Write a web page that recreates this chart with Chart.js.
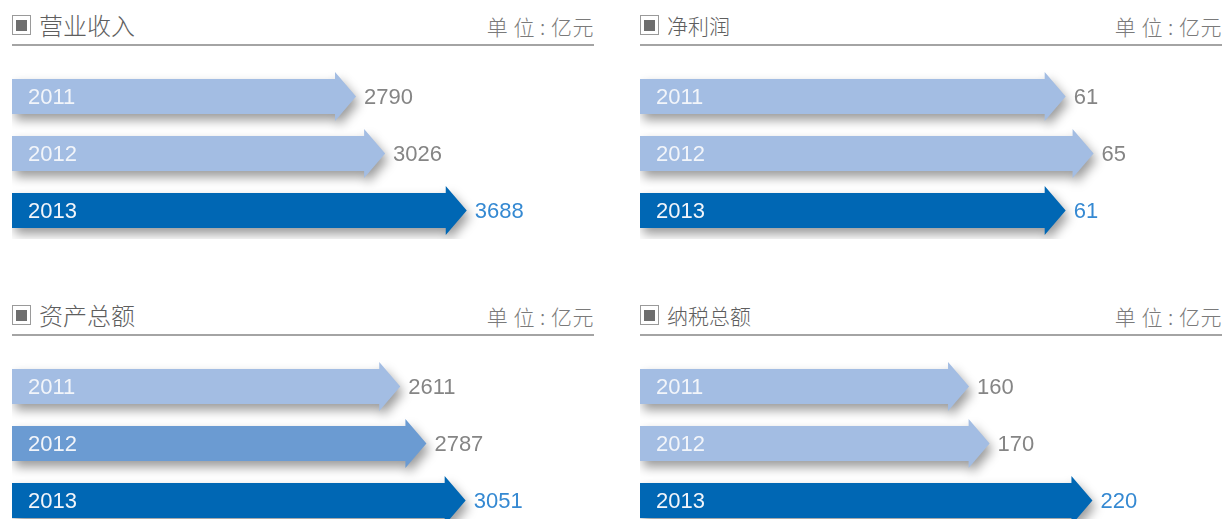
<!DOCTYPE html>
<html>
<head>
<meta charset="utf-8">
<script src="https://cdn.jsdelivr.net/npm/chart.js@4"></script>
<style>
  html, body { margin: 0; padding: 0; background: #fff; }
  body { width: 1224px; height: 519px; position: relative; overflow: hidden; }
  .panel { position: absolute; }
  .head { position: absolute; left: 0; right: 0; top: 0; height: 32px; border-bottom: 2px solid #a4a4a4; }
  .icon { position: absolute; left: 0; top: 3px; width: 17px; height: 18px; border: 1px solid #9a9a9a; background: #fff; }
  .icon::after { content: ""; position: absolute; left: 3px; top: 4px; width: 11px; height: 11px; background: #6e6e6e; }
  .title { position: absolute; top: -1px; left: 27px; font-family: "Noto Sans CJK SC", sans-serif; font-weight: 300; color: #5e5e5e; line-height: 28px; white-space: nowrap; }
  .unit { position: absolute; top: 0; right: 0; font-family: "Noto Sans CJK SC", sans-serif; font-weight: 300; font-size: 21px; letter-spacing: 0.5px; color: #7a7a7a; line-height: 28px; white-space: nowrap; }
  .box { position: absolute; }
</style>
</head>
<body>

<script>
// 数据
const years = ["2011", "2012", "2013"];
const revenue = [2790, 3026, 3688];     // 营业收入
const netProfit = [61, 65, 61];         // 净利润
const totalAssets = [2611, 2787, 3051]; // 资产总额
const taxTotal = [160, 170, 220];       // 纳税总额
const titles = ["营业收入", "净利润", "资产总额", "纳税总额"];
const unitText = "单 位 : 亿元";

const LIGHT = "#a3bde3", MID = "#6b9bd2", DARK = "#0067b4";

// 每个面板的配置
const panels = [
  { title: titles[0], data: revenue,     max: 4720, colors: [LIGHT, LIGHT, DARK], left: 12,  top: 12,  width: 582, titleSize: 24 },
  { title: titles[1], data: netProfit,   max: 83.4, colors: [LIGHT, LIGHT, DARK], left: 640, top: 12,  width: 582, titleSize: 21 },
  { title: titles[2], data: totalAssets, max: 3914, colors: [LIGHT, MID, DARK],   left: 12,  top: 302, width: 582, titleSize: 24 },
  { title: titles[3], data: taxTotal,    max: 283,  colors: [LIGHT, LIGHT, DARK], left: 640, top: 302, width: 582, titleSize: 21 }
];

// 画箭头代替柱子
const arrowPlugin = {
  id: "arrowBars",
  afterDatasetsDraw(chart) {
    const ctx = chart.ctx;
    const ds = chart.data.datasets[0];
    const meta = chart.getDatasetMeta(0);
    meta.data.forEach((bar, i) => {
      const tip = bar.x, base = bar.base, cy = bar.y;
      const half = bar.height / 2;
      const headLen = 21, headHalf = half + 7;
      ctx.save();
      ctx.shadowColor = "rgba(0,0,0,0.4)";
      ctx.shadowBlur = 11;
      ctx.shadowOffsetX = 3;
      ctx.shadowOffsetY = 6;
      ctx.fillStyle = ds.arrowColors[i];
      ctx.beginPath();
      ctx.moveTo(base, cy - half);
      ctx.lineTo(tip - headLen, cy - half);
      ctx.lineTo(tip - headLen, cy - headHalf);
      ctx.lineTo(tip, cy);
      ctx.lineTo(tip - headLen, cy + headHalf);
      ctx.lineTo(tip - headLen, cy + half);
      ctx.lineTo(base, cy + half);
      ctx.closePath();
      ctx.fill();
      ctx.restore();

      ctx.save();
      ctx.font = "22px 'Liberation Sans', Arial, sans-serif";
      ctx.textBaseline = "middle";
      ctx.textAlign = "left";
      ctx.fillStyle = "#f2f5fa";
      ctx.fillText(chart.data.labels[i], base + 16, cy + 1.5);
      ctx.fillStyle = i === 2 ? "#3589d2" : "#858585";
      ctx.fillText(String(ds.data[i]), tip + 8, cy + 1.5);
      ctx.restore();
    });
  }
};

panels.forEach((p, idx) => {
  const panel = document.createElement("div");
  panel.className = "panel";
  panel.style.left = p.left + "px";
  panel.style.top = p.top + "px";
  panel.style.width = p.width + "px";
  panel.innerHTML =
    '<div class="head"><div class="icon"></div>' +
    '<div class="title" style="font-size:' + p.titleSize + 'px">' + p.title + '</div>' +
    '<div class="unit">' + unitText + '</div></div>';
  document.body.appendChild(panel);

  const box = document.createElement("div");
  box.className = "box";
  box.style.left = p.left + "px";
  box.style.top = (p.top + 55.5) + "px";
  box.style.width = p.width + "px";
  box.style.height = "171px";
  const canvas = document.createElement("canvas");
  canvas.id = "chart" + idx;
  box.appendChild(canvas);
  document.body.appendChild(box);

  new Chart(canvas.getContext("2d"), {
    type: "bar",
    data: {
      labels: years,
      datasets: [{
        data: p.data,
        arrowColors: p.colors,
        backgroundColor: "rgba(0,0,0,0)",
        barThickness: 35
      }]
    },
    options: {
      indexAxis: "y",
      responsive: true,
      maintainAspectRatio: false,
      animation: false,
      layout: { padding: 0 },
      plugins: { legend: { display: false }, tooltip: { enabled: false } },
      scales: {
        x: { display: false, min: 0, max: p.max },
        y: { display: false }
      }
    },
    plugins: [arrowPlugin]
  });
});
</script>
</body>
</html>
